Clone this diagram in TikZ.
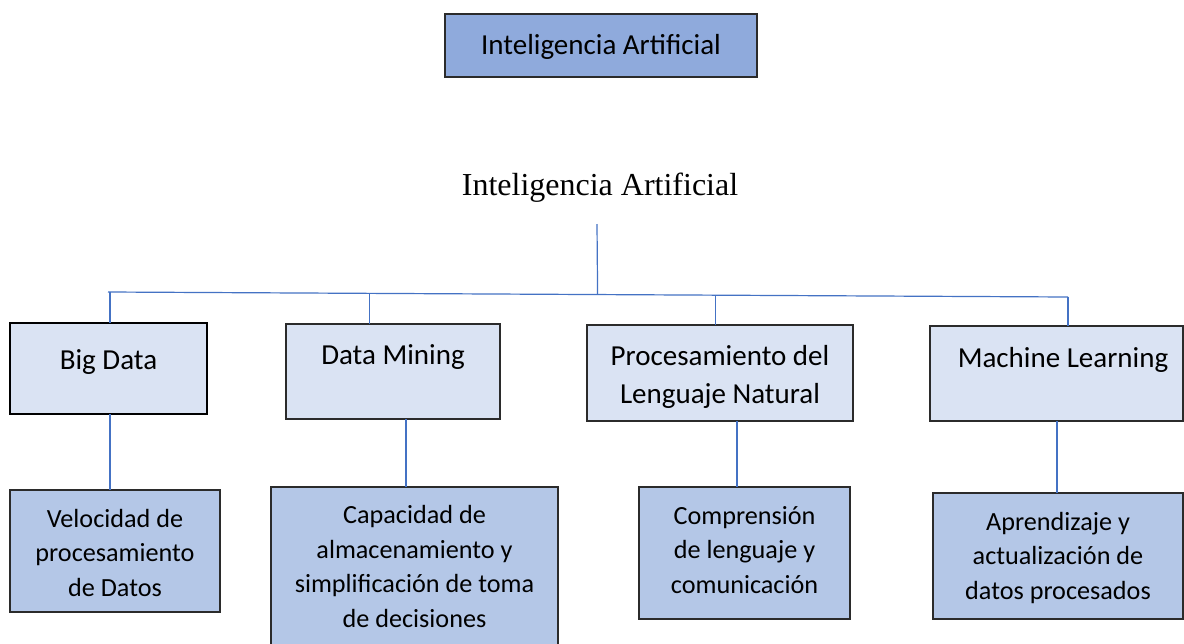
\documentclass[tikz,border=0pt]{standalone}
\usepackage{fontspec}
\usetikzlibrary{calc}
\setmainfont{Carlito}
\newfontfamily\timesf{Liberation Serif}
\definecolor{topfill}{HTML}{8FAADC}
\definecolor{midfill}{HTML}{DAE3F3}
\definecolor{lowfill}{HTML}{B4C7E7}
\definecolor{linkblue}{HTML}{4472C4}
\definecolor{edge}{HTML}{2B2B2B}
\tikzset{
  boxbase/.style={draw=edge, line width=1.2pt, inner sep=0pt, outer sep=0pt},
  topbox/.style={boxbase, fill=topfill},
  midbox/.style={boxbase, fill=midfill},
  lowbox/.style={boxbase, fill=lowfill},
  midlbl/.style={inner sep=0pt, align=center, font=\fontsize{29}{38}\selectfont},
  lowlbl/.style={inner sep=0pt, align=center, font=\fontsize{26.2}{34.5}\selectfont},
  link/.style={draw=linkblue, line width=1.2pt}
}
\begin{document}
\begin{tikzpicture}[x=1pt,y=-1pt]
\useasboundingbox (0,0) rectangle (1184,643);
\fill[white] (0,0) rectangle (1184,643);

% top box
\node[topbox, minimum width=312, minimum height=63] (top) at (601,45.5) {};
\node[midlbl, anchor=base] (toptext) at (601,54) {Inteligencia Artificial};

% title
\node[inner sep=0pt, anchor=base, font=\timesf\fontsize{32}{38}\selectfont] (title) at (600,195) {Inteligencia Artificial};

% middle boxes
\node[midbox, line width=2pt, draw=black, minimum width=197, minimum height=91] (bd) at (108.5,368.5) {};
\node[midbox, minimum width=214, minimum height=95] (dm) at (393,371.5) {};
\node[midbox, minimum width=266, minimum height=96] (pln) at (720,373) {};
\node[midbox, minimum width=253, minimum height=95] (ml) at (1056.5,373.5) {};

\node[midlbl, anchor=base] (bdt) at (108.5,369) {Big Data};
\node[midlbl, anchor=base] (dmt) at (393,364) {Data Mining};
\node[midlbl, anchor=base] (plnt) at (720,403) {Procesamiento del\\Lenguaje Natural};
\node[midlbl, anchor=base] (mlt) at (1063,367) {Machine Learning};

% bottom boxes
\node[lowbox, minimum width=210, minimum height=122] (vel) at (115,551) {};
\node[lowbox, minimum width=287, minimum height=165] (cap) at (414.5,569.5) {};
\node[lowbox, minimum width=211, minimum height=132] (com) at (744.5,553) {};
\node[lowbox, minimum width=250, minimum height=126] (apr) at (1058,556) {};

\node[lowlbl, anchor=base] (velt) at (115,596) {Velocidad de\\procesamiento\\de Datos};
\node[lowlbl, anchor=base] (capt) at (414.5,627) {Capacidad de\\almacenamiento y\\simplificación de toma\\de decisiones};
\node[lowlbl, anchor=base] (comt) at (744.5,593) {Comprensión\\de lenguaje y\\comunicación};
\node[lowlbl, anchor=base] (aprt) at (1058,599) {Aprendizaje y\\actualización de\\datos procesados};

% tree connectors
\coordinate (hl) at (108,292);
\coordinate (hr) at (1068,297);
\coordinate (jt) at ($(hl)!0.51!(hr)$);
\coordinate (j1) at ($(hl)!0.002!(hr)$);
\coordinate (j2) at ($(hl)!0.272!(hr)$);
\coordinate (j3) at ($(hl)!0.633!(hr)$);
\coordinate (j4) at (hr);
\coordinate (tt) at (597,224);
\draw[link] (hl) -- (hr);
\draw[link] (tt) -- (jt);
\draw[link] (j1) -- (j1 |- bd.north);
\draw[link] (j2) -- (j2 |- dm.north);
\draw[link] (j3) -- (j3 |- pln.north);
\draw[link] (j4) -- (j4 |- ml.north);

% lower connectors
\coordinate (b1) at (110,0);
\coordinate (b2) at (406,0);
\coordinate (b3) at (737,0);
\coordinate (b4) at (1057,0);
\draw[link] (b1 |- bd.south) -- (b1 |- vel.north);
\draw[link] (b2 |- dm.south) -- (b2 |- cap.north);
\draw[link] (b3 |- pln.south) -- (b3 |- com.north);
\draw[link] (b4 |- ml.south) -- (b4 |- apr.north);
\end{tikzpicture}
\end{document}
